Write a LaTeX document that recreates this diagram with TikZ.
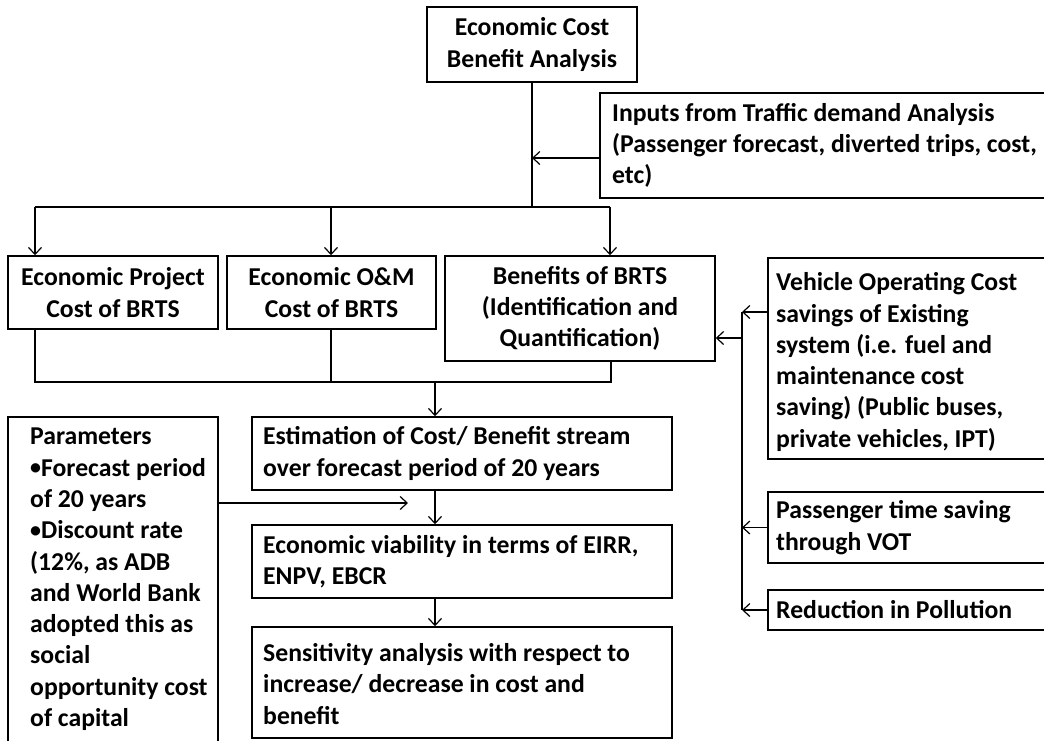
\documentclass[tikz,border=0pt]{standalone}
\usepackage{fontspec}
\setmainfont{Carlito}
\usetikzlibrary{arrows.meta}
\newcommand{\bodyfont}{\fontsize{25.7}{31.3}\selectfont\bfseries}
\newcommand{\pbullet}{\raisebox{1.5pt}{\fontsize{22}{22}\selectfont•}}
\begin{document}
\begin{tikzpicture}[x=1pt,y=-1pt,
  box/.style={draw, line width=1.5pt, inner sep=0pt, align=center, font=\bodyfont},
  txt/.style={inner sep=0pt, align=left, anchor=west, font=\bodyfont},
  conn/.style={line width=1.2pt},
  >={Straight Barb[length=7pt,width=13pt]}]
\useasboundingbox (0,0) rectangle (1044,740);
\clip (0,0) rectangle (1044,740);

% boxes
\node[box, minimum width=210pt, minimum height=75pt]  (cba)  at (532,44.5)  {Economic Cost\\Benefit Analysis};
\node[box, minimum width=460pt, minimum height=105pt] (inp)  at (830,145.5) {};
\node[box, minimum width=210pt, minimum height=73pt]  (proj) at (113,292.5) {Economic Project\\Cost of BRTS};
\node[box, minimum width=209pt, minimum height=73pt]  (om)   at (331.5,292.5) {Economic O\&M\\Cost of BRTS};
\node[box, minimum width=270pt, minimum height=105pt] (ben)  at (580,308.5) {Benefits of BRTS\\(Identification and\\Quantification)};
\node[box, minimum width=292pt, minimum height=201pt] (voc)  at (914,358.5) {};
\node[box, minimum width=292pt, minimum height=71pt]  (pts)  at (914,527.5) {};
\node[box, minimum width=292pt, minimum height=40pt]  (red)  at (914,610)   {};
\node[box, minimum width=420pt, minimum height=73pt]  (est)  at (462,453.5) {};
\node[box, minimum width=420pt, minimum height=73pt]  (via)  at (462,561.5) {};
\node[box, minimum width=420pt, minimum height=111pt] (sen)  at (462,682.5) {};
\node[box, minimum width=210pt, minimum height=343pt] (par)  at (113,588.5) {};

% left-aligned texts
\node[txt] (inpT) at (612,145.5) {Inputs from Traffic demand Analysis\\(Passenger forecast, diverted trips, cost,\\etc)};
\node[txt] (vocT) at (776,362) {Vehicle Operating Cost\\savings of Existing\\system (i.e. fuel and\\maintenance cost\\saving) (Public buses,\\private vehicles, IPT)};
\node[txt] (ptsT) at (776,527.5) {Passenger time saving\\through VOT};
\node[txt] (redT) at (776,610) {Reduction in Pollution};
\node[txt] (estT) at (263,453.5) {Estimation of Cost/ Benefit stream\\over forecast period of 20 years};
\node[txt] (viaT) at (263,561.5) {Economic viability in terms of EIRR,\\ENPV, EBCR};
\node[txt] (senT) at (263,684) {Sensitivity analysis with respect to\\increase/ decrease in cost and\\benefit};
\node[txt, anchor=north west] (parT) at (30,428) {Parameters\\\pbullet Forecast period\\of 20 years\\\pbullet Discount rate\\(12\%, as ADB\\and World Bank\\adopted this as\\social\\opportunity cost\\of capital};

% distribution from the top box
\coordinate (jL) at (35,207);
\coordinate (jM) at (331,207);
\coordinate (jR) at (610,207);
\coordinate (inA) at (533,158);
\draw[conn] (cba.south) -- (cba.south |- jL);
\draw[conn] (jL) -- (jR);
\draw[conn,->] (jL) -- (jL |- proj.north);
\draw[conn,->] (jM) -- (jM |- om.north);
\draw[conn,->] (jR) -- (jR |- ben.north);
\draw[conn,->] (inp.west |- inA) -- (cba.south |- inA);

% collection into the cost/benefit stream
\coordinate (bL) at (35,382);
\coordinate (bM) at (331,382);
\coordinate (bR) at (611,382);
\coordinate (bC) at (435,382);
\draw[conn] (bL |- proj.south) -- (bL) -- (bR) -- (bR |- ben.south);
\draw[conn] (bM |- om.south) -- (bM);
\draw[conn,->] (bC) -- (bC |- est.north);
\draw[conn,->] (bC |- est.south) -- (bC |- via.north);
\draw[conn,->] (bC |- via.south) -- (bC |- sen.north);
\coordinate (pEnd) at (408,503);
\draw[conn,->] (par.east |- pEnd) -- (pEnd);

% benefit sources on the right
\coordinate (busT) at (742,312);
\coordinate (busB) at (742,610);
\coordinate (benIn) at (742,338);
\draw[conn] (busT) -- (busB);
\draw[conn,->] (voc.west |- busT) -- (busT);
\draw[conn,->] (pts.west) -- (pts.west -| busT);
\draw[conn,->] (red.west) -- (red.west -| busT);
\draw[conn,->] (benIn) -- (ben.east |- benIn);
\end{tikzpicture}
\end{document}
